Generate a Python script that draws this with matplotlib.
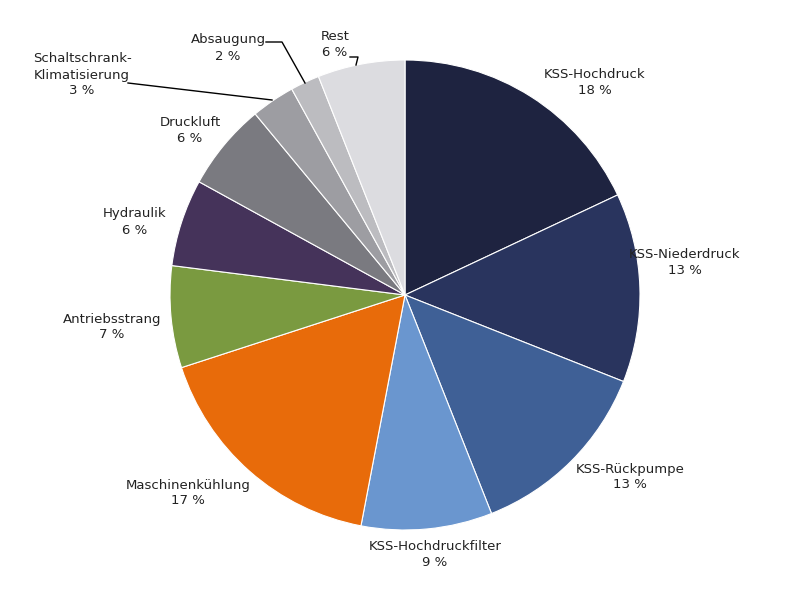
import matplotlib
matplotlib.use("Agg")
import matplotlib.pyplot as plt

labels = ["KSS-Hochdruck", "KSS-Niederdruck", "KSS-Rückpumpe", "KSS-Hochdruckfilter",
          "Maschinenkühlung", "Antriebsstrang", "Hydraulik", "Druckluft",
          "Schaltschrank-\nKlimatisierung", "Absaugung", "Rest"]
values = [18, 13, 13, 9, 17, 7, 6, 6, 3, 2, 6]
colors = ["#1e2340", "#29345e", "#3f6096", "#6a96cf", "#e86b0a", "#7a9a40",
          "#45335a", "#7a7a80", "#9d9da2", "#bcbcc0", "#dcdce0"]
label_px = [(595, 82), (685, 262), (630, 477), (435, 555), (188, 493), (112, 327),
            (135, 222), (190, 130), (82, 75), (228, 48), (335, 45)]

W, H = 800, 591
fig = plt.figure(figsize=(8, 5.91), dpi=100)
fig.patch.set_facecolor("white")
cx, cy, r = 405, 295, 235
ax = fig.add_axes([(cx - r) / W, (H - cy - r) / H, 2 * r / W, 2 * r / H])
ax.pie(values, colors=colors, startangle=90, counterclock=False, radius=1,
       wedgeprops=dict(edgecolor="white", linewidth=0.8))
ax.set_xlim(-1, 1); ax.set_ylim(-1, 1); ax.set_aspect("equal")

for lab, v, (x, y) in zip(labels, values, label_px):
    fig.text(x / W, 1 - y / H, f"{lab}\n{v} %", ha="center", va="center",
             fontsize=9.5, color="#222222", linespacing=1.3)

def line(pts):
    fig.add_artist(plt.Line2D([p[0] / W for p in pts], [1 - p[1] / H for p in pts],
                              color="black", lw=1.0, transform=fig.transFigure))

line([(128, 83), (272, 100)])
line([(266, 42), (282, 42), (305, 83)])
line([(350, 57), (358, 57), (356, 65)])

fig.savefig("out.png", dpi=100)
